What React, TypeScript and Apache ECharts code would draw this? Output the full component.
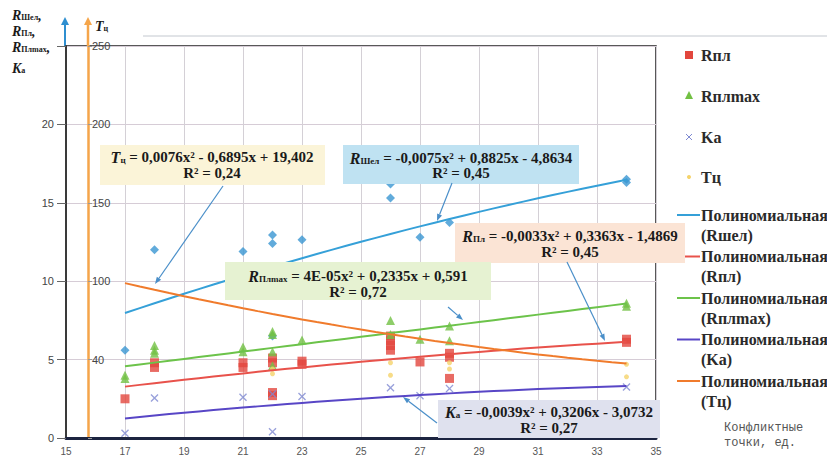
import { useEffect, useRef } from "react";
import * as echarts from "echarts";

// Axis ranges
const X_MIN = 15;
const X_MAX = 35;
const X_STEP = 2;
const Y_MIN = 0;
const Y_MAX = 25;
const Y_STEP = 5;
// Cycle-time axis labels shown at left-scale values 0, 5, 10, 15, 20, 25
const tAxisLabels = ["", "40", "100", "150", "200", "250"];

// Measured values against the number of conflict points
const rShelX = [17, 18, 21, 22, 22, 22, 23, 26, 26, 27, 28, 34, 34];
const rShelY = [5.6, 12.0, 11.9, 12.95, 12.4, 6.5, 12.65, 16.2, 15.3, 12.8, 13.75, 16.5, 16.3];

const rPlX = [17, 18, 18, 21, 21, 22, 22, 22, 22, 23, 23, 26, 26, 26, 26, 27, 28, 28, 28, 34, 34];
const rPlY = [2.5, 4.8, 4.5, 4.8, 4.5, 5.1, 4.8, 2.9, 2.7, 4.9, 4.7, 6.5, 6.2, 5.9, 5.6, 4.85, 5.4, 5.15, 3.8, 6.3, 6.1];

const rPlMaxX = [17, 17, 18, 18, 18, 21, 21, 22, 22, 22, 22, 23, 26, 26, 27, 28, 28, 34, 34];
const rPlMaxY = [4.0, 3.8, 5.9, 5.6, 5.4, 5.8, 5.5, 6.8, 6.6, 5.5, 4.6, 6.25, 7.5, 6.6, 6.3, 7.15, 6.2, 8.6, 8.4];

const kaX = [17, 18, 21, 22, 22, 23, 26, 27, 28, 34];
const kaY = [0.3, 2.55, 2.6, 0.4, 2.8, 2.65, 3.2, 2.7, 3.15, 3.25];

const tcX = [21, 22, 22, 26, 26, 28, 28, 34, 34];
const tcY = [10.6, 4.4, 4.1, 4.8, 4.0, 4.8, 4.4, 4.7, 3.9];

// Quadratic trend coefficients [a, b, c] of a·x² + b·x + c, with R²
const rShelCoef = [-0.0075, 0.8825, -4.8634];
const rPlCoef = [-0.0033, 0.3363, -1.4869];
const rPlMaxCoef = [4e-5, 0.2335, 0.591];
const kaCoef = [-0.0039, 0.3206, -3.0732];
const tcCoef = [0.0076, -0.6895, 19.402];
const rShelR2 = 0.45;
const rPlR2 = 0.45;
const rPlMaxR2 = 0.72;
const kaR2 = 0.27;
const tcR2 = 0.24;
const TREND_FROM = 17;
const TREND_TO = 34;

const C = {
  shel: "#3a96d2",
  shelLine: "#35a0d8",
  pl: "#e2463d",
  plLine: "#e8524b",
  plMax: "#72c043",
  plMaxLine: "#6cc34a",
  ka: "#7f8ad2",
  kaLine: "#5846c6",
  tc: "#f5d36a",
  tcLine: "#f07b2c",
  arrow: "#4a8fc9",
};

const SERIF = "'Liberation Serif', 'Times New Roman', serif";
const X_SYMBOL = "path://M0,1.2L1.2,0L5,3.8L8.8,0L10,1.2L6.2,5L10,8.8L8.8,10L5,6.2L1.2,10L0,8.8L3.8,5Z";
const TOP = 100; // z for overlays drawn above the series

const pairs = (xs: number[], ys: number[]) => xs.map((x, i) => [x, ys[i]]);

const trend = (c: number[]) => {
  const pts: number[][] = [];
  for (let x = TREND_FROM; x <= TREND_TO + 1e-9; x += 0.5) {
    pts.push([x, c[0] * x * x + c[1] * x + c[2]]);
  }
  return pts;
};

const num = (v: number) => {
  const a = Math.abs(v);
  if (a < 0.001) {
    const [m, e] = a.toExponential().split("e");
    const ex = Number(e);
    return `${m}E${ex < 0 ? "-" : "+"}${String(Math.abs(ex)).padStart(2, "0")}`;
  }
  return String(a).replace(".", ",");
};
const eq = (c: number[]) =>
  `${c[0] < 0 ? "-" : ""}${num(c[0])}x² ${c[1] < 0 ? "-" : "+"} ${num(c[1])}x ${c[2] < 0 ? "-" : "+"} ${num(c[2])}`;
const r2Text = (r: number) => `R² = ${num(r)}`;

// equation labels
const rich = {
  v: { fontFamily: SERIF, fontWeight: "bold", fontStyle: "italic", fontSize: 16, fill: "#1a1a1a" },
  s: { fontFamily: SERIF, fontWeight: "bold", fontSize: 9, fill: "#1a1a1a", padding: [6, 0, 0, 0] },
  t: { fontFamily: SERIF, fontWeight: "bold", fontSize: 15, fill: "#1a1a1a" },
};
// axis titles
const titleRich = {
  v: { fontFamily: SERIF, fontWeight: "bold", fontStyle: "italic", fontSize: 14, lineHeight: 14, fill: "#1a1a1a" },
  s: { fontFamily: SERIF, fontWeight: "bold", fontSize: 8, lineHeight: 14, fill: "#1a1a1a", padding: [5, 0, 0, 0] },
};

function annotation(
  sym: string,
  sub: string,
  coef: number[],
  r2: number,
  box: number[],
  fill: string,
  cx: number,
  y1: number,
  y2: number
) {
  return [
    { type: "rect", z: TOP, shape: { x: box[0], y: box[1], width: box[2], height: box[3] }, style: { fill } },
    {
      type: "text",
      z: TOP + 1,
      x: cx,
      y: y1,
      style: {
        text: `{v|${sym}}{s|${sub}}{t| = ${eq(coef)}}`,
        rich,
        align: "center",
        verticalAlign: "middle",
      },
    },
    {
      type: "text",
      z: TOP + 1,
      x: cx,
      y: y2,
      style: { text: `{t|${r2Text(r2)}}`, rich, align: "center", verticalAlign: "middle" },
    },
  ];
}

function arrow(x1: number, y1: number, x2: number, y2: number, color: string, head = 7, w = 2.6) {
  const ang = Math.atan2(y2 - y1, x2 - x1);
  const bx = x2 - head * Math.cos(ang);
  const by = y2 - head * Math.sin(ang);
  const px = -Math.sin(ang) * w;
  const py = Math.cos(ang) * w;
  return [
    { type: "line", z: TOP + 2, shape: { x1, y1, x2: bx, y2: by }, style: { stroke: color, lineWidth: 1.2 } },
    {
      type: "polygon",
      z: TOP + 2,
      shape: { points: [[x2, y2], [bx + px, by + py], [bx - px, by - py]] },
      style: { fill: color },
    },
  ];
}

const legendFont = { fontFamily: SERIF, fontWeight: "bold", fontSize: 16, fill: "#2a2a2a" };
const captionFont = { fontFamily: "'Liberation Mono', monospace", fontSize: 12, fill: "#555" };

function App() {
  const ref = useRef<HTMLDivElement>(null);

  useEffect(() => {
    if (!ref.current) return;
    const chart = echarts.init(ref.current, undefined, { renderer: "svg" });

    const lineLegend = [
      { color: C.shelLine, name: "(Rшел)" },
      { color: C.plLine, name: "(Rпл)" },
      { color: C.plMaxLine, name: "(Rплmax)" },
      { color: C.kaLine, name: "(Ka)" },
      { color: C.tcLine, name: "(Tц)" },
    ];

    const graphic: any[] = [
      // top guide line
      { type: "line", shape: { x1: 143, y1: 36, x2: 827, y2: 36 }, style: { stroke: "#c3c8cf", lineWidth: 1 } },
      // axis arrows above the plot
      { type: "line", shape: { x1: 65, y1: 46, x2: 65, y2: 24 }, style: { stroke: "#2f8fd0", lineWidth: 2 } },
      { type: "polygon", shape: { points: [[65, 17], [61, 25], [69, 25]] }, style: { fill: "#2f8fd0" } },
      { type: "line", shape: { x1: 88, y1: 46, x2: 88, y2: 24 }, style: { stroke: "#f5a54a", lineWidth: 2.5 } },
      { type: "polygon", shape: { points: [[88, 17], [84, 25], [92, 25]] }, style: { fill: "#f5a54a" } },
      // axis titles
      { type: "text", x: 12, y: 15, style: { text: "{v|R}{s|Шел}{v|,}", rich: titleRich, verticalAlign: "middle" } },
      { type: "text", x: 12, y: 31, style: { text: "{v|R}{s|Пл}{v|,}", rich: titleRich, verticalAlign: "middle" } },
      { type: "text", x: 12, y: 47, style: { text: "{v|R}{s|Плmax}{v|,}", rich: titleRich, verticalAlign: "middle" } },
      { type: "text", x: 12, y: 68, style: { text: "{v|K}{s|а}", rich: titleRich, verticalAlign: "middle" } },
      { type: "text", x: 95, y: 26, style: { text: "{v|T}{s|ц}", rich: titleRich, verticalAlign: "middle" } },
      // trend equations
      ...annotation("T", "ц", tcCoef, tcR2, [100, 145, 225, 40], "#fbf4d8", 212, 157, 173),
      ...annotation("R", "Шел", rShelCoef, rShelR2, [343, 145, 236, 39], "#bfe2f2", 461, 158, 173),
      ...annotation("R", "Пл", rPlCoef, rPlR2, [455, 223, 230, 40], "#fbe4d5", 570, 236, 252),
      ...annotation("R", "Плmax", rPlMaxCoef, rPlMaxR2, [225, 262, 266, 38], "#e6f2d2", 358, 276, 292),
      ...annotation("K", "а", kaCoef, kaR2, [438, 400, 222, 38], "#dfe1ee", 549, 412, 428),
      ...arrow(223, 186, 155, 284, C.arrow),
      ...arrow(452, 183, 437, 221, C.arrow),
      ...arrow(567, 262, 605, 341, C.arrow),
      ...arrow(448, 307, 463, 320, C.arrow),
      ...arrow(437, 423, 403, 397, C.arrow),
      // legend: point markers
      { type: "rect", shape: { x: 685, y: 51, width: 8, height: 8 }, style: { fill: C.pl } },
      { type: "text", x: 701, y: 55, style: { text: "Rпл", ...legendFont, verticalAlign: "middle" } },
      { type: "polygon", shape: { points: [[689, 91], [685, 99], [693, 99]] }, style: { fill: C.plMax } },
      { type: "text", x: 701, y: 96, style: { text: "Rплmax", ...legendFont, verticalAlign: "middle" } },
      { type: "line", shape: { x1: 686, y1: 134, x2: 692, y2: 140 }, style: { stroke: C.ka, lineWidth: 1 } },
      { type: "line", shape: { x1: 692, y1: 134, x2: 686, y2: 140 }, style: { stroke: C.ka, lineWidth: 1 } },
      { type: "text", x: 701, y: 137, style: { text: "Ka", ...legendFont, verticalAlign: "middle" } },
      { type: "circle", shape: { cx: 689, cy: 177, r: 2 }, style: { fill: C.tc } },
      { type: "text", x: 701, y: 177, style: { text: "Tц", ...legendFont, verticalAlign: "middle" } },
      // x-axis caption
      { type: "text", x: 724, y: 428, style: { text: "Конфликтные", ...captionFont, verticalAlign: "middle" } },
      { type: "text", x: 724, y: 443, style: { text: "точки, ед.", ...captionFont, verticalAlign: "middle" } },
    ];

    // legend: trend lines
    lineLegend.forEach((it, i) => {
      const y = 215 + i * 41.5;
      graphic.push({ type: "line", shape: { x1: 677, y1: y, x2: 700, y2: y }, style: { stroke: it.color, lineWidth: 2 } });
      graphic.push({ type: "text", x: 701, y, style: { text: "Полиномиальная", ...legendFont, verticalAlign: "middle" } });
      graphic.push({ type: "text", x: 701, y: y + 20, style: { text: it.name, ...legendFont, verticalAlign: "middle" } });
    });

    const scatter = (name: string, data: number[][], symbol: string, size: number, color: string) => ({
      name,
      type: "scatter",
      data,
      symbol,
      symbolSize: size,
      itemStyle: { color },
      z: 3,
    });
    const trendSeries = (name: string, coef: number[], color: string) => ({
      name,
      type: "line",
      data: trend(coef),
      showSymbol: false,
      smooth: false,
      lineStyle: { color, width: 2 },
      z: 4,
    });

    chart.setOption({
      animation: false,
      backgroundColor: "#ffffff",
      grid: {
        left: 66,
        right: 171,
        top: 46,
        bottom: 21,
        show: true,
        borderColor: "#222",
        borderWidth: 1.5,
        backgroundColor: "transparent",
      },
      xAxis: {
        type: "value",
        min: X_MIN,
        max: X_MAX,
        interval: X_STEP,
        axisLine: { show: true, lineStyle: { color: "#1c2440", width: 3 } },
        axisTick: { show: false },
        axisLabel: { color: "#555", fontSize: 10, fontFamily: "'Liberation Sans', sans-serif", margin: 8 },
        splitLine: { show: true, lineStyle: { color: "#d4d0d6", width: 1 } },
      },
      yAxis: [
        {
          type: "value",
          position: "left",
          min: Y_MIN,
          max: Y_MAX,
          interval: Y_STEP,
          axisLine: { show: true, lineStyle: { color: "#3a3a3a", width: 2 } },
          axisTick: { show: true, length: 9, lineStyle: { color: "#666" } },
          axisLabel: {
            color: "#444",
            fontSize: 11,
            fontFamily: "'Liberation Sans', sans-serif",
            margin: 12,
            formatter: (v: number) => (v === Y_MAX ? "" : String(v)),
          },
          splitLine: { show: true, lineStyle: { color: "#d6ccd6", width: 1 } },
        },
        {
          type: "value",
          position: "left",
          offset: -22,
          min: Y_MIN,
          max: Y_MAX,
          interval: Y_STEP,
          axisLine: { show: true, lineStyle: { color: "#f5a54a", width: 2.5 } },
          axisTick: { show: true, inside: true, length: 4, lineStyle: { color: "#999" } },
          axisLabel: {
            inside: true,
            color: "#444",
            fontSize: 11,
            fontFamily: "'Liberation Sans', sans-serif",
            margin: 4,
            formatter: (v: number) => tAxisLabels[Math.round(v / Y_STEP)] ?? "",
          },
          splitLine: { show: false },
        },
      ],
      series: [
        scatter("Rшел", pairs(rShelX, rShelY), "diamond", 9, C.shel),
        scatter("Rпл", pairs(rPlX, rPlY), "rect", 9, C.pl),
        scatter("Rплmax", pairs(rPlMaxX, rPlMaxY), "triangle", 9, C.plMax),
        scatter("Ka", pairs(kaX, kaY), X_SYMBOL, 8, C.ka),
        scatter("Tц", pairs(tcX, tcY), "circle", 5, C.tc),
        trendSeries("Полиномиальная (Rшел)", rShelCoef, C.shelLine),
        trendSeries("Полиномиальная (Rпл)", rPlCoef, C.plLine),
        trendSeries("Полиномиальная (Rплmax)", rPlMaxCoef, C.plMaxLine),
        trendSeries("Полиномиальная (Ka)", kaCoef, C.kaLine),
        trendSeries("Полиномиальная (Tц)", tcCoef, C.tcLine),
      ],
      graphic,
    });

    return () => chart.dispose();
  }, []);

  return <div ref={ref} style={{ position: "absolute", left: 0, top: 0, width: 827, height: 459 }} />;
}

export default App;
